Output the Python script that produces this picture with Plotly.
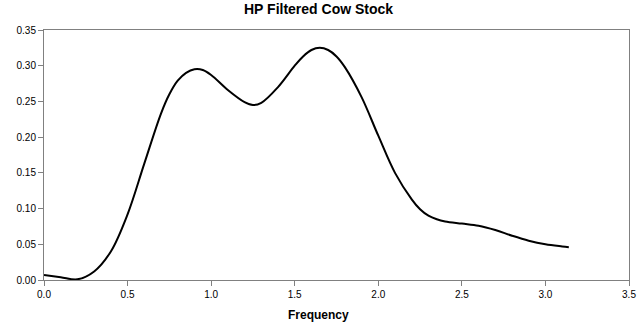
import plotly.graph_objects as go

freq = [0.0, 0.1, 0.2, 0.3, 0.4, 0.5, 0.6, 0.7, 0.75, 0.8, 0.85, 0.9, 0.95, 1.0, 1.1, 1.2, 1.25,
        1.3, 1.4, 1.5, 1.55, 1.6, 1.65, 1.7, 1.75, 1.8, 1.9, 2.0, 2.1, 2.2, 2.25, 2.3, 2.35, 2.4,
        2.5, 2.6, 2.7, 2.8, 2.9, 3.0, 3.1, 3.14]
spectrum = [0.007, 0.004, 0.001, 0.012, 0.040, 0.092, 0.163, 0.233, 0.260, 0.279, 0.290,
            0.295, 0.294, 0.287, 0.266, 0.249, 0.245, 0.248, 0.270, 0.300, 0.313, 0.322,
            0.325, 0.322, 0.313, 0.298, 0.256, 0.202, 0.150, 0.113, 0.099, 0.090, 0.085,
            0.082, 0.079, 0.076, 0.070, 0.062, 0.055, 0.050, 0.047, 0.046]

fig = go.Figure()
fig.add_trace(go.Scatter(x=freq, y=spectrum, mode="lines",
                         line=dict(color="black", width=2, shape="spline", smoothing=1.0),
                         showlegend=False, hoverinfo="skip"))

fig.update_layout(
    width=639, height=326,
    margin=dict(l=44, r=10, t=30, b=46, autoexpand=False),
    paper_bgcolor="white", plot_bgcolor="white",
    font=dict(family="Liberation Sans, Arial, sans-serif", size=10, color="black"),
    annotations=[
        dict(text="<b>HP Filtered Cow Stock</b>", xref="paper", yref="paper",
             x=(318.5 - 44) / 585, y=1 + 21 / 250, xanchor="center", yanchor="middle",
             showarrow=False, font=dict(size=14, color="black")),
        dict(text="<b>Frequency</b>", xref="paper", yref="paper",
             x=(318.5 - 44) / 585, y=-35 / 250, xanchor="center", yanchor="middle",
             showarrow=False, font=dict(size=12, color="black")),
    ],
)
fig.update_xaxes(range=[0, 3.5], tickvals=[0, 0.5, 1, 1.5, 2, 2.5, 3, 3.5],
                 ticktext=["0.0", "0.5", "1.0", "1.5", "2.0", "2.5", "3.0", "3.5"],
                 showgrid=False, zeroline=False, showline=True, linecolor="#808080", linewidth=1,
                 mirror=True, ticks="outside", ticklen=5, tickcolor="#808080", automargin=False)
fig.update_yaxes(range=[0, 0.35], tickvals=[0, 0.05, 0.1, 0.15, 0.2, 0.25, 0.3, 0.35],
                 ticktext=["0.00", "0.05", "0.10", "0.15", "0.20", "0.25", "0.30", "0.35"],
                 showgrid=False, zeroline=False, showline=True, linecolor="#808080", linewidth=1,
                 mirror=True, ticks="outside", ticklen=5, tickcolor="#808080", automargin=False)

fig.write_html("out.html", config={"displayModeBar": False},
               post_script="document.body.style.margin='0';document.body.style.overflow='hidden';")
